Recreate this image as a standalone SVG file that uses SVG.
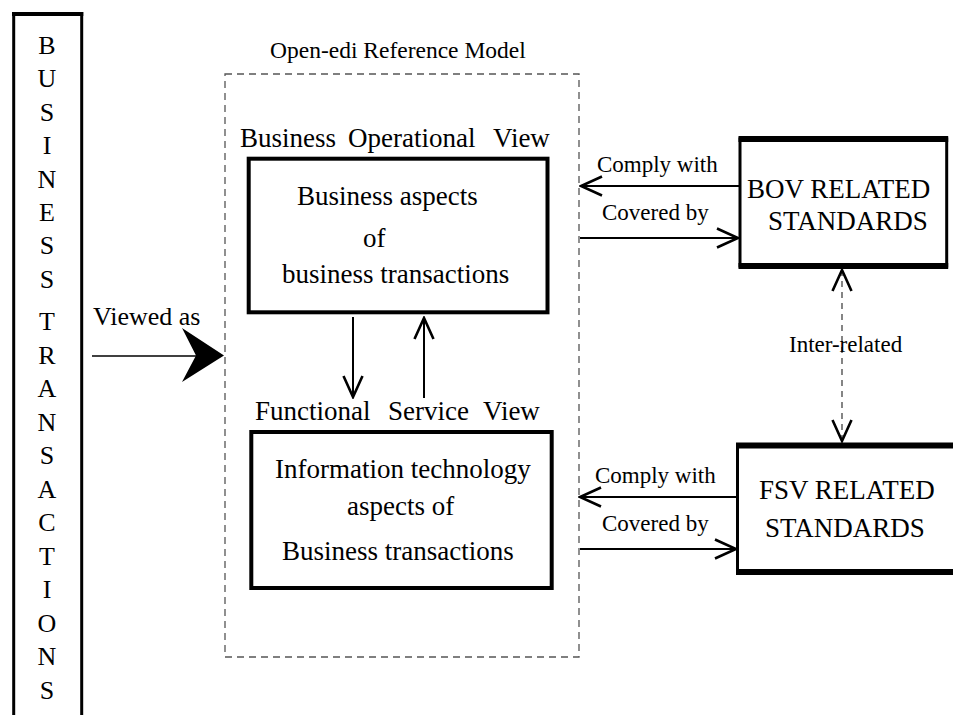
<svg xmlns="http://www.w3.org/2000/svg" width="953" height="715" viewBox="0 0 953 715">
<style>
  text { font-family: "Liberation Serif", "Times New Roman", serif; fill: #000; }
  .big { font-size: 27px; }
  .vert { font-size: 26px; text-anchor: middle; }
  .lbl { font-size: 23px; }
  .box { fill: #fff; stroke: #000; stroke-width: 4; }
  .side { stroke: #000; stroke-width: 3; fill: none; }
  .thick { stroke: #000; stroke-width: 6; fill: none; }
  .conn { stroke: #000; stroke-width: 2; fill: none; }
  .dash { stroke: #444; stroke-width: 1.3; fill: none; stroke-dasharray: 6 5; }
</style>
<defs>
  <marker id="arr" viewBox="-24 -12 26 24" refX="0" refY="0" markerWidth="26" markerHeight="24" markerUnits="userSpaceOnUse" orient="auto-start-reverse">
    <path d="M -21 -9.5 L 0 0 L -21 9.5" fill="none" stroke="#000" stroke-width="2.6" stroke-dasharray="none"/>
  </marker>
</defs>
<rect width="953" height="715" fill="#fff"/>

<g id="business-transactions">
  <line class="side" x1="13.7" y1="12" x2="13.7" y2="715"/>
  <line class="side" x1="81.7" y1="12" x2="81.7" y2="715"/>
  <line x1="12" y1="14" x2="83.3" y2="14" stroke="#000" stroke-width="4"/>
  <text class="vert" x="47" y="54">B</text>
  <text class="vert" x="47" y="87.4">U</text>
  <text class="vert" x="47" y="120.8">S</text>
  <text class="vert" x="47" y="154.2">I</text>
  <text class="vert" x="47" y="187.6">N</text>
  <text class="vert" x="47" y="221">E</text>
  <text class="vert" x="47" y="254.4">S</text>
  <text class="vert" x="47" y="288">S</text>
  <text class="vert" x="47" y="330">T</text>
  <text class="vert" x="47" y="363.5">R</text>
  <text class="vert" x="47" y="397">A</text>
  <text class="vert" x="47" y="430.5">N</text>
  <text class="vert" x="47" y="464">S</text>
  <text class="vert" x="47" y="497.5">A</text>
  <text class="vert" x="47" y="531">C</text>
  <text class="vert" x="47" y="564.5">T</text>
  <text class="vert" x="47" y="598">I</text>
  <text class="vert" x="47" y="631.5">O</text>
  <text class="vert" x="47" y="665">N</text>
  <text class="vert" x="47" y="698.5">S</text>
</g>

<g id="open-edi-model">
  <rect x="225" y="74" width="354" height="583" fill="none" stroke="#555" stroke-width="1.3" stroke-dasharray="7 5"/>
  <text x="270" y="58" font-size="23.5px">Open-edi Reference Model</text>
</g>

<g id="bov">
  <text class="big" x="240" y="147">Business</text>
  <text class="big" x="348" y="147">Operational</text>
  <text class="big" x="493" y="147">View</text>
  <rect class="box" x="248.7" y="158.7" width="298.8" height="153.6"/>
  <text class="big" x="297" y="205">Business aspects</text>
  <text class="big" x="363" y="247">of</text>
  <text class="big" x="282" y="283">business transactions</text>
</g>

<g id="fsv">
  <text class="big" x="255" y="420">Functional</text>
  <text class="big" x="388" y="420">Service</text>
  <text class="big" x="483" y="420">View</text>
  <rect class="box" x="251.3" y="432" width="300.4" height="156"/>
  <text class="big" x="275" y="478">Information technology</text>
  <text class="big" x="347" y="515">aspects of</text>
  <text class="big" x="282" y="560">Business transactions</text>
</g>

<g id="bov-standards">
  <rect x="740" y="139" width="206.7" height="127" fill="#fff" stroke="#000" stroke-width="3"/>
  <line class="thick" x1="738.5" y1="139" x2="948.2" y2="139"/>
  <line class="thick" x1="738.5" y1="266" x2="948.2" y2="266"/>
  <text class="big" x="747" y="198">BOV RELATED</text>
  <text class="big" x="768" y="230">STANDARDS</text>
</g>

<g id="fsv-standards">
  <rect x="737.5" y="445.5" width="230" height="126.5" fill="#fff" stroke="#000" stroke-width="3"/>
  <line class="thick" x1="736" y1="445.5" x2="960" y2="445.5"/>
  <line class="thick" x1="736" y1="572" x2="960" y2="572"/>
  <text class="big" x="759" y="499">FSV RELATED</text>
  <text class="big" x="765" y="537">STANDARDS</text>
</g>

<g id="connectors">
  <!-- Viewed as -->
  <line x1="92" y1="356" x2="196" y2="356" stroke="#000" stroke-width="1.5"/>
  <polygon points="182,328 224,355.5 182,382 196,355.5" fill="#000"/>
  <text x="93" y="325" font-size="26px">Viewed as</text>

  <!-- BOV <-> FSV -->
  <line class="conn" x1="353" y1="317" x2="353" y2="397" marker-end="url(#arr)"/>
  <line class="conn" x1="424" y1="398" x2="424" y2="318" marker-end="url(#arr)"/>

  <!-- BOV standards -->
  <line class="conn" x1="739" y1="186" x2="581" y2="186" marker-end="url(#arr)"/>
  <text class="lbl" x="597" y="172">Comply with</text>
  <line class="conn" x1="580" y1="238" x2="738" y2="238" marker-end="url(#arr)"/>
  <text class="lbl" x="602" y="220">Covered by</text>

  <!-- FSV standards -->
  <line class="conn" x1="736" y1="497" x2="580" y2="497" marker-end="url(#arr)"/>
  <text class="lbl" x="595" y="483">Comply with</text>
  <line class="conn" x1="580" y1="549" x2="736" y2="549" marker-end="url(#arr)"/>
  <text class="lbl" x="602" y="531">Covered by</text>

  <!-- Inter-related -->
  <line class="dash" x1="842" y1="270" x2="842" y2="441" marker-start="url(#arr)" marker-end="url(#arr)"/>
  <text class="lbl" x="789" y="352">Inter-related</text>
</g>
</svg>
